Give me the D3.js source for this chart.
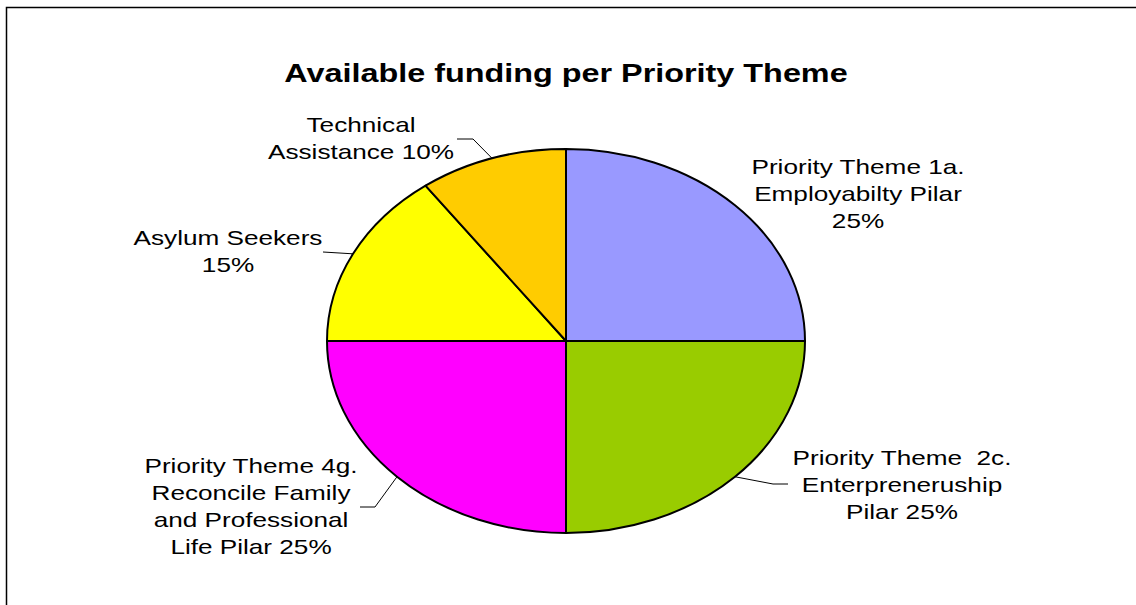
<!DOCTYPE html>
<html>
<head>
<meta charset="utf-8">
<script src="https://cdn.jsdelivr.net/npm/d3@7"></script>
<style>
  html, body { margin: 0; padding: 0; background: #fff; }
  svg { display: block; }
  text { font-family: "Liberation Sans", Arial, sans-serif; fill: #000; white-space: pre; }
</style>
</head>
<body>
<svg id="chart" width="1136" height="605"></svg>
<script>
// ---- data ----
const title = "Available funding per Priority Theme";
const categories = [
  "Priority Theme 1a. Employabilty Pilar",
  "Priority Theme  2c. Enterpreneruship Pilar",
  "Priority Theme 4g. Reconcile Family and Professional Life Pilar",
  "Asylum Seekers",
  "Technical Assistance"
];
const values = [25, 25, 25, 15, 10];
const colors = ["#9999FF", "#99CC00", "#FF00FF", "#FFFF00", "#FFCC00"];
const labelLines = [
  ["Priority Theme 1a.", "Employabilty Pilar", "25%"],
  ["Priority Theme  2c.", "Enterpreneruship", "Pilar 25%"],
  ["Priority Theme 4g.", "Reconcile Family", "and Professional", "Life Pilar 25%"],
  ["Asylum Seekers", "15%"],
  ["Technical", "Assistance 10%"]
];

// ---- layout ----
const W = 1136, H = 605;
const cx = 566, cy = 341, rx = 239, ry = 192;
const sx = rx / ry;           // horizontal stretch of the whole picture
const lineH = 27;
const labelLayout = [
  { x: 858, y: 174, leader: [] },
  { x: 902, y: 465, leader: [[773, 484], [788, 484]] },
  { x: 251, y: 473, leader: [[375, 507], [360, 507]] },
  { x: 228, y: 245, leader: [[323, 252]] },
  { x: 361, y: 132, leader: [[473, 139], [457, 139]] }
];

const svg = d3.select("#chart");

// outer frame (right and bottom lie outside the view)
svg.append("rect")
  .attr("x", 6.5).attr("y", 7.5)
  .attr("width", W + 20).attr("height", H + 20)
  .attr("fill", "#fff").attr("stroke", "#000").attr("stroke-width", 1.5);

// title
svg.append("text")
  .attr("transform", `translate(${cx},82) scale(${sx},1)`)
  .attr("text-anchor", "middle")
  .attr("font-weight", "bold")
  .attr("font-size", 26)
  .text(title);

// pie
const pie = d3.pie().sort(null).value(d => d).startAngle(0).endAngle(2 * Math.PI);
const arcs = pie(values);
const arc = d3.arc().innerRadius(0).outerRadius(ry);

const g = svg.append("g").attr("transform", `translate(${cx},${cy}) scale(${sx},1)`);
g.selectAll("path.slice")
  .data(arcs)
  .join("path")
  .attr("class", "slice")
  .attr("d", arc)
  .attr("fill", (d, i) => colors[i])
  .attr("stroke", "#000")
  .attr("stroke-width", 2)
  .attr("stroke-linejoin", "round")
  .attr("vector-effect", "non-scaling-stroke");

// leader lines from ellipse edge at mid-angle
const edgePoint = a => [cx + rx * Math.sin(a), cy - ry * Math.cos(a)];
const line = d3.line();
arcs.forEach((d, i) => {
  const L = labelLayout[i];
  if (!L.leader.length) return;
  const mid = (d.startAngle + d.endAngle) / 2;
  const pts = [edgePoint(mid), ...L.leader];
  svg.append("path")
    .attr("d", line(pts))
    .attr("fill", "none")
    .attr("stroke", "#000")
    .attr("stroke-width", 1);
});

// labels
labelLines.forEach((lines, i) => {
  const L = labelLayout[i];
  lines.forEach((t, j) => {
    svg.append("text")
      .attr("transform", `translate(${L.x},${L.y + j * lineH}) scale(${sx},1)`)
      .attr("text-anchor", "middle")
      .attr("font-size", 21)
      .text(t);
  });
});
</script>
</body>
</html>
